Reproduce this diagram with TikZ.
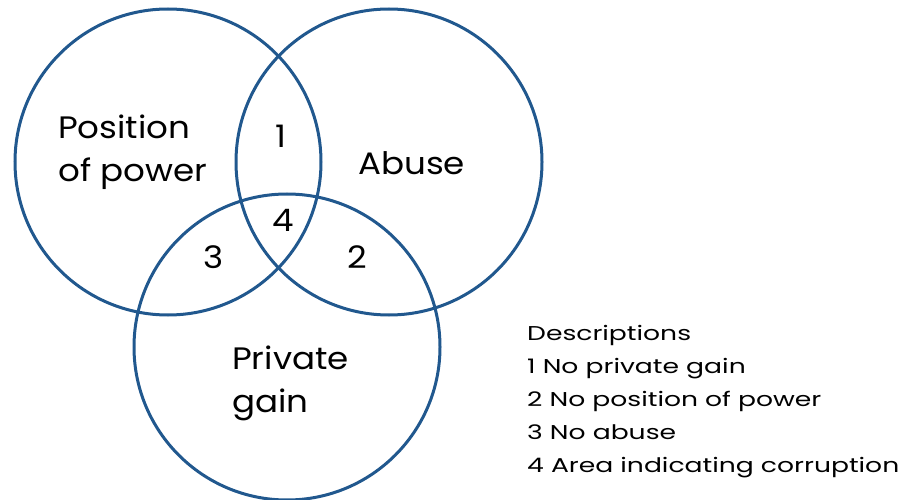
\documentclass[tikz,border=0pt]{standalone}
\usepackage{fontspec}
\setmainfont{Poppins}
\newfontfamily\labelfont{Poppins}[FakeStretch=1.1]
\newfontfamily\legendfont{Poppins}[FakeStretch=1.33]
\definecolor{vennblue}{RGB}{33,88,142}
\begin{document}
\begin{tikzpicture}[x=1pt,y=-1pt,
  venn/.style={circle,draw=vennblue,line width=3pt,minimum size=306pt,inner sep=0pt},
  biglabel/.style={font=\labelfont\fontsize{31}{43}\selectfont,inner sep=0pt,anchor=base west,align=left},
  numlabel/.style={font=\labelfont\fontsize{31}{32}\selectfont,inner sep=0pt,anchor=base},
  desc/.style={font=\legendfont\fontsize{20}{33}\selectfont,inner sep=0pt,anchor=base west,align=left}]
  \useasboundingbox (0,0) rectangle (911,500);
  % the three sets
  \node[venn] (power) at (168,162) {};
  \node[venn] (abuse) at (389,162) {};
  \node[venn] (gain)  at (287,347) {};
  % set names (anchored at the baseline of their last line)
  \node[biglabel] (tpower) at (58,182) {Position\\of power};
  \node[biglabel] (tabuse) at (358,175) {Abuse};
  \node[biglabel] (tgain)  at (232,412) {Private\\gain};
  % region numbers
  \node[numlabel] (n1) at (281,148) {1};
  \node[numlabel] (n4) at (283,232) {4};
  \node[numlabel] (n2) at (357,268) {2};
  \node[numlabel] (n3) at (214,268) {3};
  % legend
  \node[desc] (legend) at (527,472) {Descriptions\\1 No private gain\\2 No position of power\\3 No abuse\\4 Area indicating corruption};
\end{tikzpicture}
\end{document}
